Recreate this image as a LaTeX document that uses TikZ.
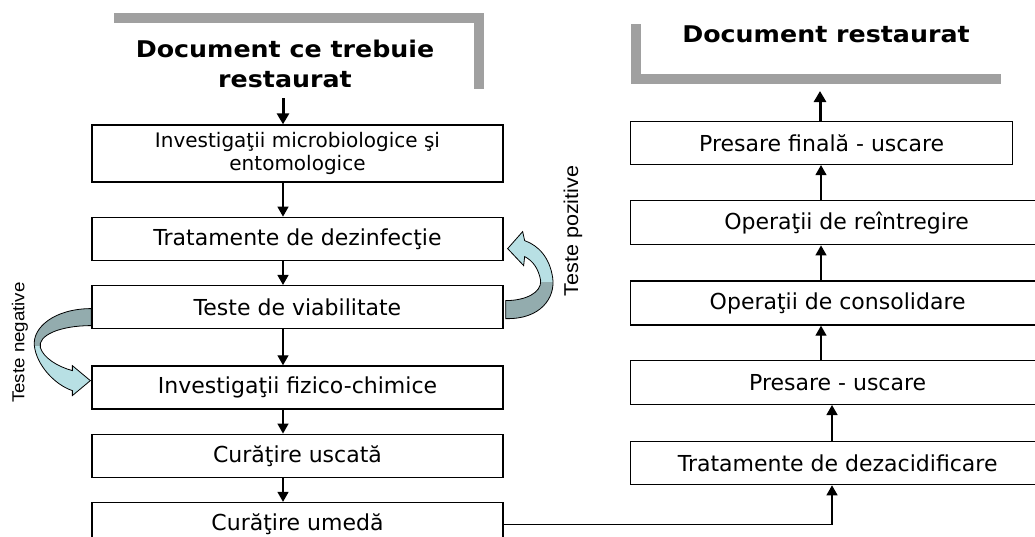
\documentclass[tikz,border=0pt]{standalone}
\usepackage{fontspec}
\setmainfont{DejaVu Sans}
\newfontfamily\titlefont[FakeStretch=1.1]{DejaVu Sans}
\newfontfamily\labelfont[FakeStretch=1.08]{Liberation Sans}
\usetikzlibrary{arrows.meta, positioning}
\definecolor{BarGray}{RGB}{160, 160, 160}
\definecolor{RibbonDark}{RGB}{147, 172, 174}
\definecolor{RibbonLight}{RGB}{184, 224, 228}

\begin{document}
\begin{tikzpicture}[x=1pt, y=-1pt, >={Triangle[length=10pt, width=11pt]},
    stepbox/.style={draw, line width=1.3pt, minimum height=43pt, inner sep=2pt, align=center, font=\fontsize{22}{26}\selectfont},
    flow/.style={->, line width=1.4pt},
    bigflow/.style={-{Triangle[length=11pt, width=12pt]}, line width=3pt},
    framebar/.style={draw=BarGray, line width=10pt},
    ribbon/.style={draw=black, line width=0.8pt}]
      \useasboundingbox (0,0) rectangle (1035,536);

      % Titles
      \node[font=\titlefont\bfseries\fontsize{23}{30}\selectfont, align=center] (srcdoc) at (285,64) {Document ce trebuie\\restaurat};
      \node[font=\titlefont\bfseries\fontsize{23}{30}\selectfont] (outdoc) at (826,34) {Document restaurat};
      \draw[framebar] (114,18) -- (479,18) -- (479,89);
      \draw[framebar] (635.5,24) -- (635.5,79) -- (1001,79);

      % Left column
      \node[stepbox, minimum width=411pt, minimum height=57pt, font=\fontsize{20}{23}\selectfont] (micro) at (297.5,153.5) {Investigaţii microbiologice şi\\entomologice};
      \node[stepbox, minimum width=411pt, below=34pt of micro] (dezinf) {Tratamente de dezinfecţie};
      \node[stepbox, minimum width=411pt, below=24pt of dezinf] (viab) {Teste de viabilitate};
      \node[stepbox, minimum width=411pt, below=36pt of viab] (fizico) {Investigaţii fizico-chimice};
      \node[stepbox, minimum width=411pt, below=24pt of fizico] (uscata) {Curăţire uscată};
      \node[stepbox, minimum width=411pt, minimum height=44pt, below=24pt of uscata] (umeda) {Curăţire umedă};

      % Right column
      \node[stepbox, minimum width=414pt, anchor=north west] (dezacid) at (630,441) {Tratamente de dezacidificare};
      \node[stepbox, minimum width=414pt, minimum height=44pt, above=36pt of dezacid.north west, anchor=south west] (presare) {Presare - uscare};
      \node[stepbox, minimum width=414pt, minimum height=44pt, above=34pt of presare.north west, anchor=south west] (consolid) {Operaţii de consolidare};
      \node[stepbox, minimum width=432pt, minimum height=44pt, above=35pt of consolid.north west, anchor=south west] (reintreg) {Operaţii de reîntregire};
      \node[stepbox, minimum width=382pt, above=35pt of reintreg.north west, anchor=south west] (final) {Presare finală - uscare};

      % Side labels
      \node[font=\labelfont\fontsize{17.3}{20}\selectfont, rotate=90] (neglabel) at (20,342.5) {Teste negative};
      \node[font=\labelfont\fontsize{20}{23}\selectfont, rotate=90] (pozlabel) at (573,231) {Teste pozitive};

      % Arrows
      \coordinate (lx) at (283,0);
      \coordinate (rx) at (821,0);
      \coordinate (ry) at (832,0);
      \coordinate (srcend) at (283,98);
      \coordinate (outend) at (820,91);
      \draw[bigflow] (srcend) -- (micro.north -| lx);
      \draw[flow] (micro.south -| lx) -- (dezinf.north -| lx);
      \draw[flow] (dezinf.south -| lx) -- (viab.north -| lx);
      \draw[flow] (viab.south -| lx) -- (fizico.north -| lx);
      \draw[flow] (fizico.south -| lx) -- (uscata.north -| lx);
      \draw[flow] (uscata.south -| lx) -- (umeda.north -| lx);
      \draw[flow] (umeda.east) -| (dezacid.south -| ry);
      \draw[flow] (dezacid.north -| ry) -- (presare.south -| ry);
      \draw[flow] (presare.north -| rx) -- (consolid.south -| rx);
      \draw[flow] (consolid.north -| rx) -- (reintreg.south -| rx);
      \draw[flow] (reintreg.north -| rx) -- (final.south -| rx);
      \draw[bigflow] (final.north -| outend) -- (outend);

      % Curved arrows
      \begin{scope}[shift={(viab.east)}]
        \path[save path=\pozribbon] (2,11.5) .. controls (37,12.5) and (52,-9.5) .. (49,-29.5) .. controls (46,-49.5) and (35,-61.5) .. (21,-66.5) -- (19,-75.5) -- (4,-58.5) -- (20,-41.5) -- (21,-50.5) .. controls (29,-46.5) and (35,-38.5) .. (37,-26.5) .. controls (38,-14.5) and (22,-6.5) .. (2,-6.5) -- cycle;
        \fill[RibbonLight, use path=\pozribbon];
        \begin{scope}
          \clip (-5,-24.5) rectangle (60,20);
          \fill[RibbonDark, use path=\pozribbon];
        \end{scope}
        \draw[ribbon, use path=\pozribbon];
      \end{scope}
      \begin{scope}[shift={(viab.west)}]
        \path[save path=\negribbon] (0,1.5) .. controls (-37,1.5) and (-59,20.5) .. (-57,38.5) .. controls (-55,57.5) and (-37,77.5) .. (-19,83.5) -- (-19,88.5) -- (-1,73.5) -- (-19,58.5) -- (-19,63.5) .. controls (-34,59.5) and (-48,50.5) .. (-51,40.5) .. controls (-54,28.5) and (-32,18.5) .. (0,18.5) -- cycle;
        \fill[RibbonLight, use path=\negribbon];
        \begin{scope}
          \clip (-70,-5) rectangle (5,38.5);
          \fill[RibbonDark, use path=\negribbon];
        \end{scope}
        \draw[ribbon, use path=\negribbon];
      \end{scope}
\end{tikzpicture}
\end{document}
